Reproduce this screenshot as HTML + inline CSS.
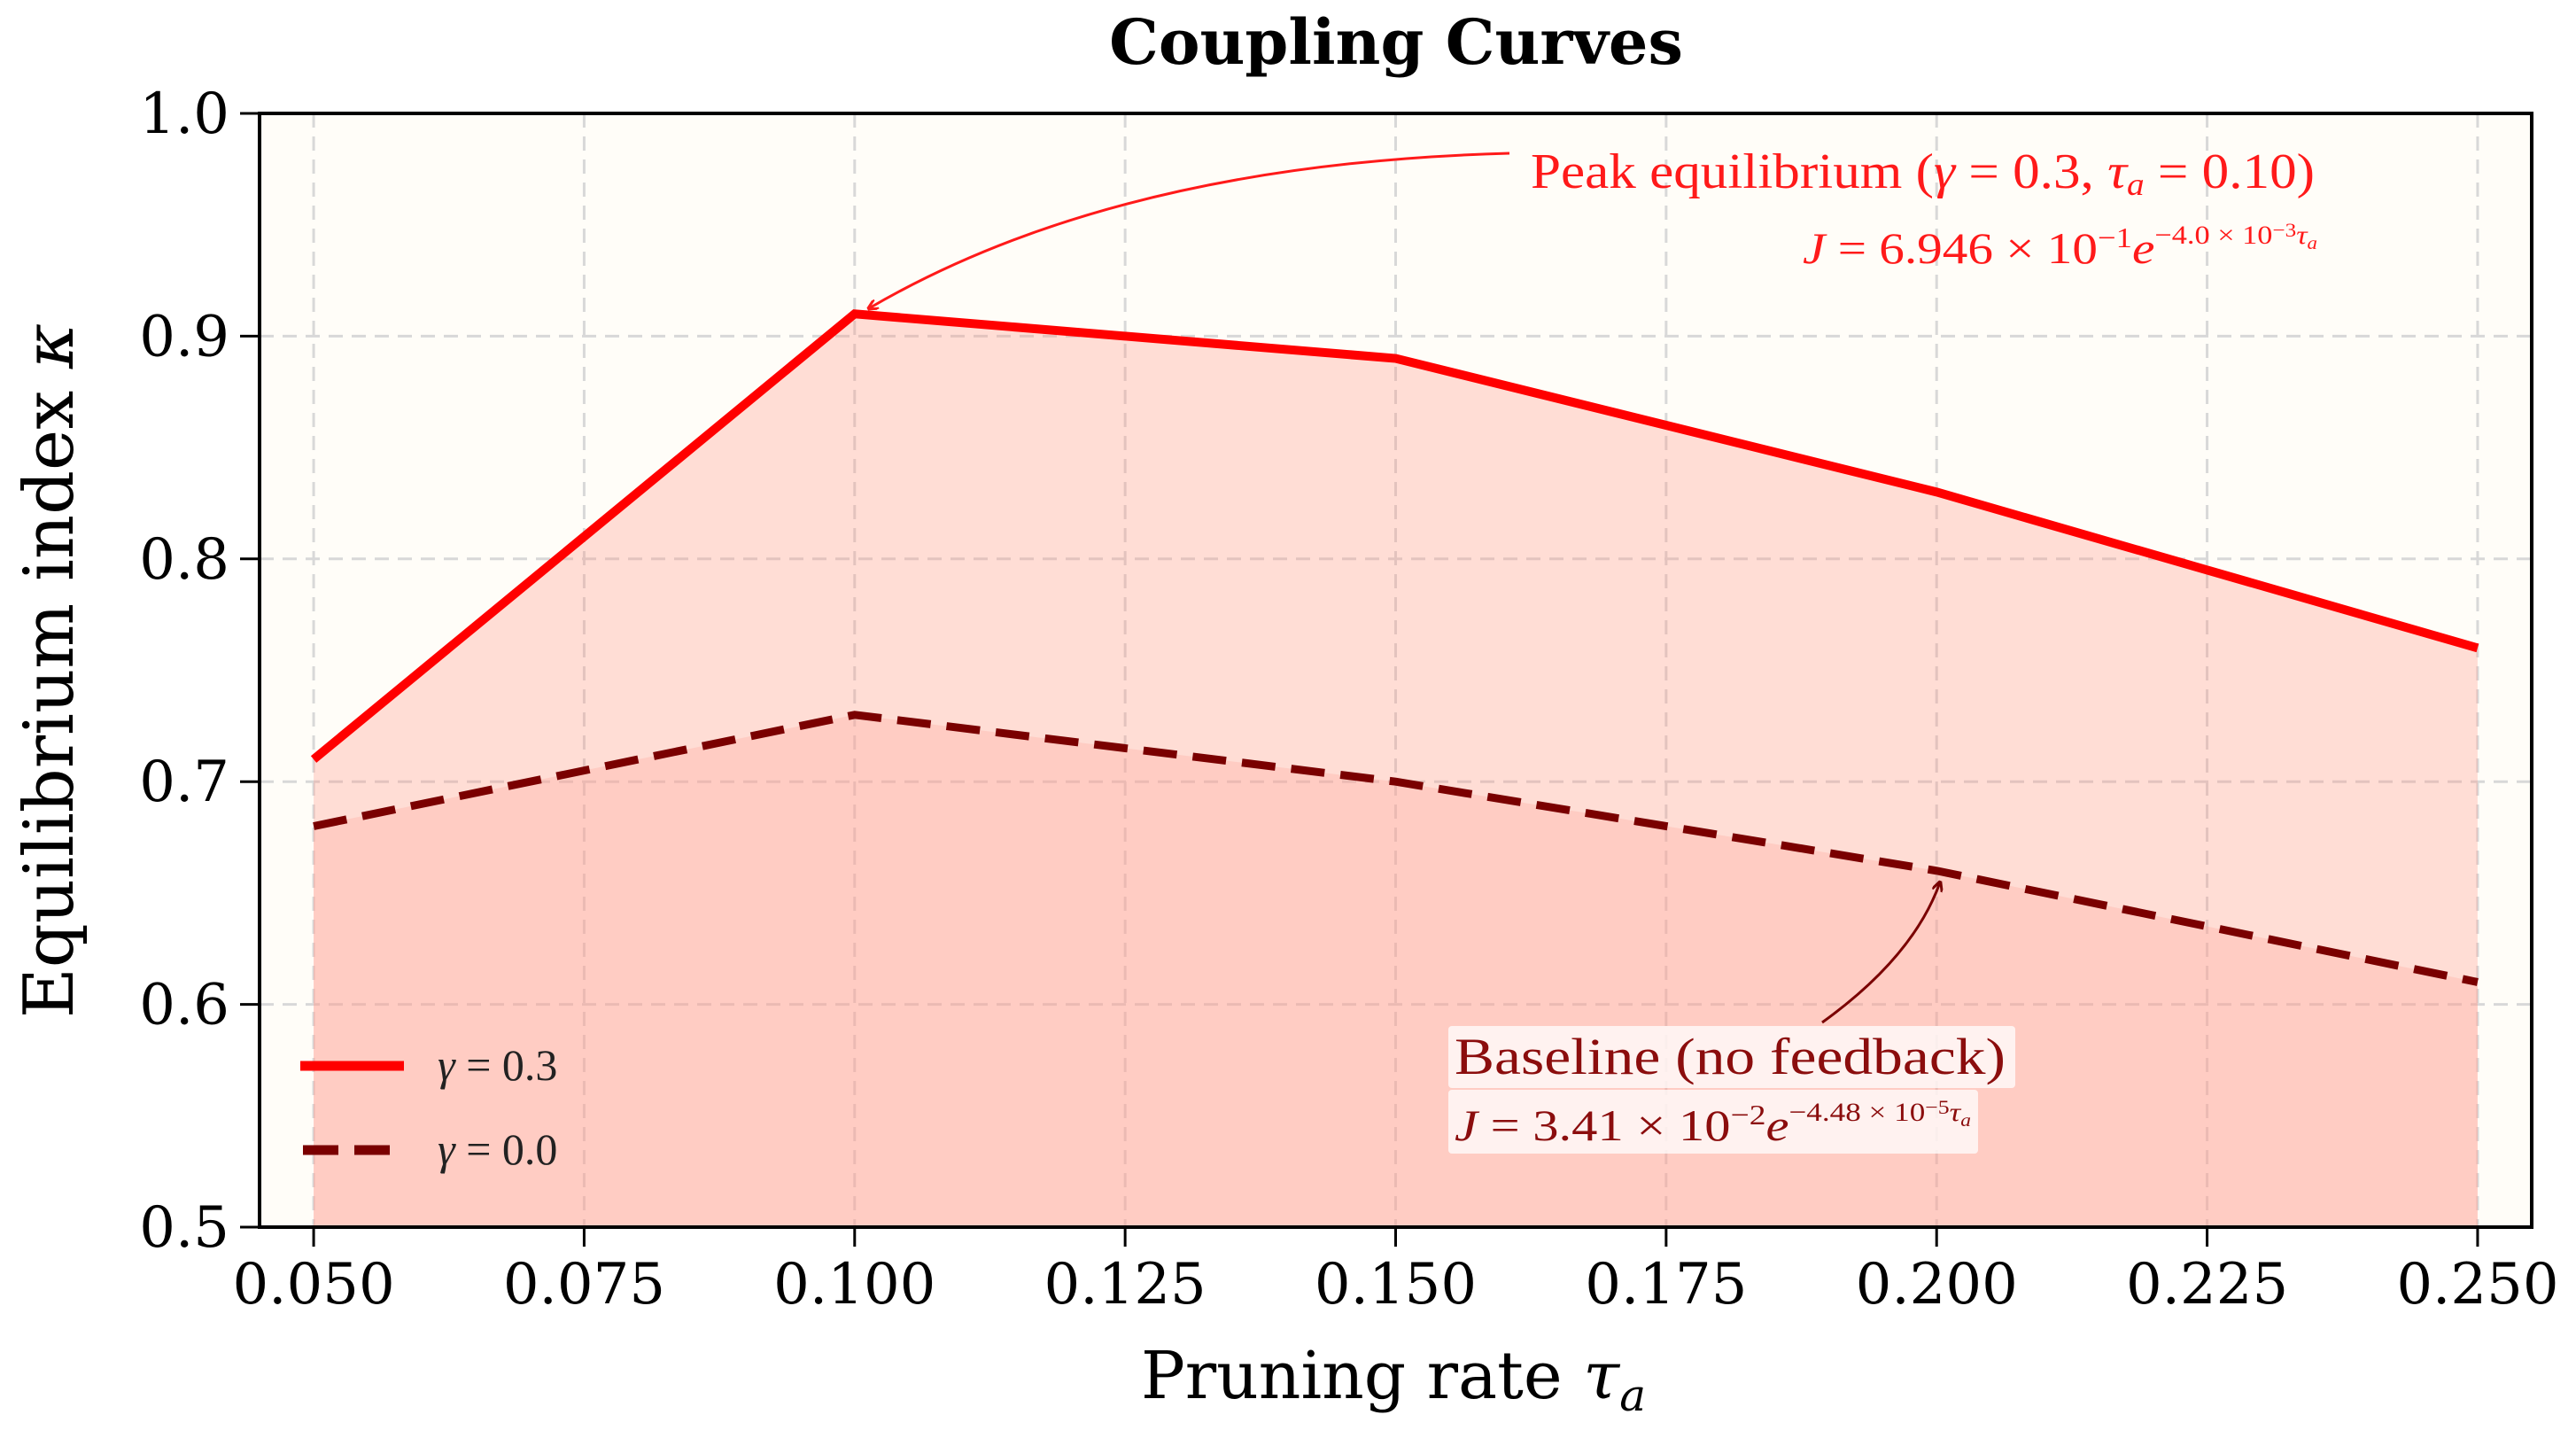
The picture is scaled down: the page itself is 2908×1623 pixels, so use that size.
<!DOCTYPE html>
<html><head><meta charset="utf-8"><style>
html,body{margin:0;padding:0;background:#fff;}
svg{display:block;}
text{font-family:"DejaVu Serif","Liberation Serif",serif;}
.m{font-family:"Liberation Serif","DejaVu Serif",serif;}
</style></head><body>
<svg id="chart" width="2908" height="1623" viewBox="0 0 2908 1623" xmlns="http://www.w3.org/2000/svg">
<defs>
<marker id="ah1" markerWidth="12" markerHeight="12" refX="10" refY="6" orient="auto" markerUnits="userSpaceOnUse"><path d="M0,0 L12,6 L0,12" fill="none" stroke="#ff1a1a" stroke-width="3"/></marker>
<marker id="ah2" markerWidth="12" markerHeight="12" refX="10" refY="6" orient="auto" markerUnits="userSpaceOnUse"><path d="M0,0 L12,6 L0,12" fill="none" stroke="#7a0000" stroke-width="3"/></marker>
</defs>
<text x="1576" y="72" text-anchor="middle" font-size="70" font-weight="bold">Coupling Curves</text>
<rect x="293" y="128" width="2565" height="1257" fill="#fffdf8"/>
<g id="grid"></g>
<g id="fills"></g>
<g id="series"></g>
<rect x="293" y="128" width="2565" height="1257" fill="none" stroke="#000" stroke-width="4"/>
<g id="ticks"></g>
<text transform="translate(82,757) rotate(-90)" text-anchor="middle" font-size="78">Equilibrium index <tspan font-style="italic">κ</tspan></text>
<text x="1573" y="1578" text-anchor="middle" font-size="74">Pruning rate <tspan font-style="italic">τ</tspan><tspan font-style="italic" font-size="50" dy="14">a</tspan></text>
<g>
<path d="M1704,173 Q1260,185 981,348" fill="none" stroke="#ff1a1a" stroke-width="3" marker-end="url(#ah1)"/>
<text class="m" x="1728" y="212" font-size="56" fill="#ff1a1a" textLength="885" lengthAdjust="spacingAndGlyphs">Peak equilibrium (<tspan font-style="italic">γ</tspan> = 0.3, <tspan font-style="italic">τ</tspan><tspan font-style="italic" font-size="36" dy="8">a</tspan><tspan dy="-8"> = 0.10)</tspan></text>
<text class="m" x="2035" y="297" font-size="50" fill="#ff1a1a" textLength="581" lengthAdjust="spacingAndGlyphs"><tspan font-style="italic">J</tspan> = 6.946 × 10<tspan font-size="32" dy="-18">−1</tspan><tspan font-style="italic" dy="18">e</tspan><tspan font-size="30" dy="-22">−4.0 × 10</tspan><tspan font-size="22" dy="-8">−3</tspan><tspan font-size="30" font-style="italic" dy="8">τ</tspan><tspan font-size="20" font-style="italic" dy="6">a</tspan></text>
</g>
<g>
<rect x="1635" y="1158" width="640" height="70" fill="#fff" fill-opacity="0.75" rx="4"/>
<rect x="1635" y="1230" width="598" height="72" fill="#fff" fill-opacity="0.75" rx="4"/>
<path d="M2057,1154 Q2160,1080 2190,996" fill="none" stroke="#7a0000" stroke-width="3" marker-end="url(#ah2)"/>
<text class="m" x="1642" y="1212" font-size="58" fill="#8b0d0d" textLength="622" lengthAdjust="spacingAndGlyphs">Baseline (no feedback)</text>
<text class="m" x="1642" y="1287" font-size="50" fill="#8b0d0d" textLength="583" lengthAdjust="spacingAndGlyphs"><tspan font-style="italic">J</tspan> = 3.41 × 10<tspan font-size="32" dy="-18">−2</tspan><tspan font-style="italic" dy="18">e</tspan><tspan font-size="30" dy="-22">−4.48 × 10</tspan><tspan font-size="22" dy="-8">−5</tspan><tspan font-size="30" font-style="italic" dy="8">τ</tspan><tspan font-size="20" font-style="italic" dy="6">a</tspan></text>
</g>
<g>
<line x1="339" y1="1203" x2="456" y2="1203" stroke="#ff0000" stroke-width="11"/>
<text class="m" x="494" y="1219" font-size="50" fill="#222"><tspan font-style="italic">γ</tspan> = 0.3</text>
<line x1="342" y1="1298" x2="444" y2="1298" stroke="#7a0000" stroke-width="11" stroke-dasharray="40,18"/>
<text class="m" x="494" y="1314" font-size="50" fill="#222"><tspan font-style="italic">γ</tspan> = 0.0</text>
</g>
</svg>
<script>
const xValues = [0.05, 0.10, 0.15, 0.20, 0.25];
const gamma03 = [0.71, 0.91, 0.89, 0.83, 0.76];
const gamma00 = [0.68, 0.73, 0.70, 0.66, 0.61];
const xTicks = [0.05, 0.075, 0.1, 0.125, 0.15, 0.175, 0.2, 0.225, 0.25];
const xTickLabels = ["0.050","0.075","0.100","0.125","0.150","0.175","0.200","0.225","0.250"];
const yTicks = [0.5, 0.6, 0.7, 0.8, 0.9, 1.0];
const yTickLabels = ["0.5","0.6","0.7","0.8","0.9","1.0"];

const L=293,R=2858,T=128,B=1385, X0=0.045,X1=0.255,Y0=0.5,Y1=1.0;
function sx(v){return L+(v-X0)/(X1-X0)*(R-L);}
function sy(v){return B-(v-Y0)/(Y1-Y0)*(B-T);}
const NS="http://www.w3.org/2000/svg";
function mk(tag,attrs,parent){const e=document.createElementNS(NS,tag);for(const k in attrs)e.setAttribute(k,attrs[k]);parent.appendChild(e);return e;}
const grid=document.getElementById('grid'),ticks=document.getElementById('ticks'),fills=document.getElementById('fills'),series=document.getElementById('series');

xTicks.forEach((v,i)=>{
  const g=mk('line',{x1:sx(v),x2:sx(v),y1:T,y2:B,stroke:'#d8d8d8','stroke-width':3,'stroke-dasharray':'16,10'},grid);
  
  
  const t=mk('line',{x1:sx(v),x2:sx(v),y1:B,y2:B+22,stroke:'#000','stroke-width':3},ticks);
  
  
  const l=mk('text',{x:sx(v),y:B+86,'text-anchor':'middle','font-size':64},ticks);
  l.textContent=xTickLabels[i];
  
  
});
yTicks.forEach((v,i)=>{
  const g=mk('line',{x1:L,x2:R,y1:sy(v),y2:sy(v),stroke:'#d8d8d8','stroke-width':3,'stroke-dasharray':'16,10'},grid);
  
  
  const t=mk('line',{x1:L-22,x2:L,y1:sy(v),y2:sy(v),stroke:'#000','stroke-width':3},ticks);
  
  
  const l=mk('text',{x:L-34,y:sy(v)+22,'text-anchor':'end','font-size':64},ticks);
  l.textContent=yTickLabels[i];
  
  
});

function pts(arr){return xValues.map((x,i)=>sx(x)+','+sy(arr[i])).join(' ');}
function areaPts(arr){return sx(xValues[0])+','+sy(Y0)+' '+pts(arr)+' '+sx(xValues[xValues.length-1])+','+sy(Y0);}
const f1=mk('polygon',{points:areaPts(gamma03),fill:'#ff8c7a','fill-opacity':0.28},fills);


const f2=mk('polygon',{points:areaPts(gamma00),fill:'#ffa59c','fill-opacity':0.3},fills);


const s1=mk('polyline',{points:pts(gamma03),fill:'none',stroke:'#ff0000','stroke-width':10,'stroke-linejoin':'miter'},series);


const s2=mk('polyline',{points:pts(gamma00),fill:'none',stroke:'#7a0000','stroke-width':9,'stroke-dasharray':'38,18'},series);


</script>
</body></html>
